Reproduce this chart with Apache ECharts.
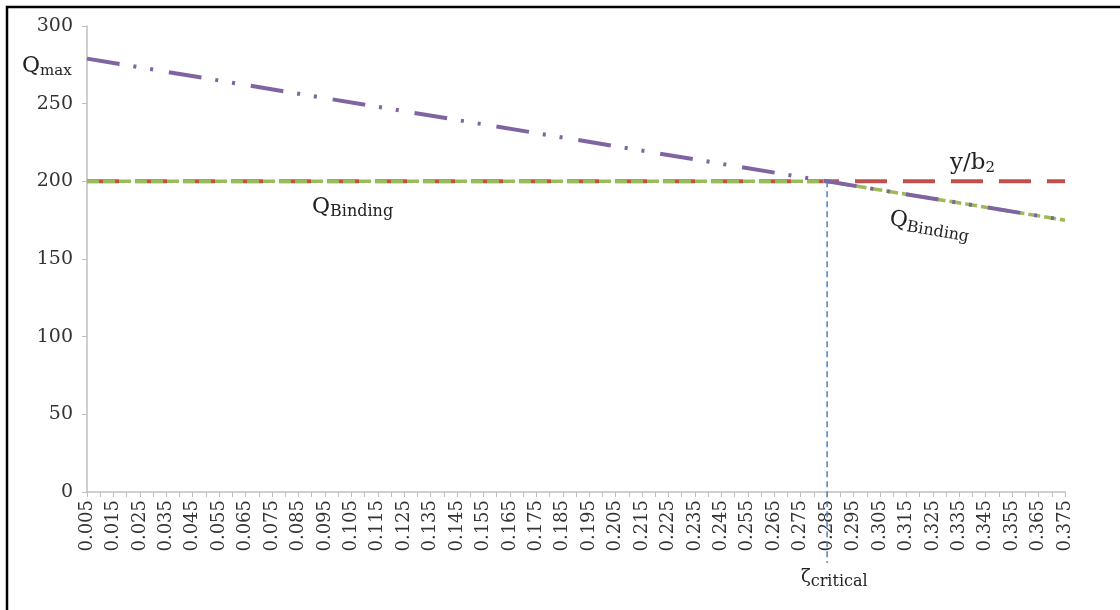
<!DOCTYPE html>
<html>
<head>
<meta charset="utf-8">
<script src="https://cdn.jsdelivr.net/npm/echarts@6/dist/echarts.min.js"></script>
<style>html,body{margin:0;padding:0;background:#fff;}#c{width:1120px;height:610px;}</style>
</head>
<body>
<div id="c"></div>
<script>
var categories = ['0.005','0.01','0.015','0.02','0.025','0.03','0.035','0.04','0.045','0.05',
'0.055','0.06','0.065','0.07','0.075','0.08','0.085','0.09','0.095','0.1',
'0.105','0.11','0.115','0.12','0.125','0.13','0.135','0.14','0.145','0.15',
'0.155','0.16','0.165','0.17','0.175','0.18','0.185','0.19','0.195','0.2',
'0.205','0.21','0.215','0.22','0.225','0.23','0.235','0.24','0.245','0.25',
'0.255','0.26','0.265','0.27','0.275','0.28','0.285','0.29','0.295','0.3',
'0.305','0.31','0.315','0.32','0.325','0.33','0.335','0.34','0.345','0.35',
'0.355','0.36','0.365','0.37','0.375'];
var yTicks = [0, 50, 100, 150, 200, 250, 300];
var qmaxX = ['0.005', '0.285', '0.375'];
var qmaxY = [279, 200, 175];
var ybX = ['0.005', '0.375'];
var ybY = [200, 200];
var qbX = ['0.005', '0.285', '0.375'];
var qbY = [200, 200, 175];
var critical = '0.285';
var criticalY = 200;

function pairs(xs, ys) { return xs.map(function (x, i) { return [categories.indexOf(x), ys[i]]; }); }

var font = 'DejaVu Serif';
var chart = echarts.init(document.getElementById('c'));
var option = {
  animation: false,
  backgroundColor: '#fff',
  grid: { left: 87, right: 55, top: 26, bottom: 118 },
  xAxis: {
    type: 'category', data: categories, boundaryGap: false,
    axisLine: { lineStyle: { color: '#BFBFBF', width: 1.5 } },
    axisTick: { show: true, interval: 0, length: 5, lineStyle: { color: '#BFBFBF' } },
    axisLabel: { interval: 1, rotate: 90, fontFamily: font, fontSize: 18, color: '#333', margin: 8 },
    splitLine: { show: false }
  },
  yAxis: {
    type: 'value', min: yTicks[0], max: yTicks[yTicks.length - 1], interval: 50,
    axisLine: { show: true, lineStyle: { color: '#BFBFBF', width: 1.5 } },
    axisTick: { show: true, length: 5, lineStyle: { color: '#BFBFBF' } },
    axisLabel: { fontFamily: font, fontSize: 19, color: '#333', margin: 14 },
    splitLine: { show: false }
  },
  series: [
    { name: 'y/b2', type: 'line', data: pairs(ybX, ybY), symbol: 'none',
      lineStyle: { color: '#C0504D', width: 4, type: [32, 16] }, z: 2 },
    { name: 'QBinding', type: 'line', data: pairs(qbX, qbY), symbol: 'none',
      lineStyle: { color: '#9BBB59', width: 3.5, type: [12, 4] }, z: 3 },
    { name: 'Qmax', type: 'line', data: pairs(qmaxX, qmaxY), symbol: 'none',
      lineStyle: { color: '#8064A2', width: 4, type: [33, 14, 3, 14, 3, 16] }, z: 4 }
  ]
};
chart.setOption(option);

var ci = categories.indexOf(critical);
var critPx = chart.convertToPixel({ xAxisIndex: 0, yAxisIndex: 0 }, [ci, criticalY]);
var g = [
  { type: 'line', z: 10, shape: { x1: critPx[0], y1: critPx[1], x2: critPx[0], y2: 563 },
    style: { stroke: '#4F81BD', lineWidth: 1.5, lineDash: [6, 4] } },
  { type: 'text', z: 10, left: 22, top: 55, style: {
      text: '{q|Q}{s|max}', rich: { q: { fontFamily: font, fontSize: 22, fill: '#222' }, s: { fontFamily: font, fontSize: 15, fill: '#222', padding: [10, 0, 0, 0] } } } },
  { type: 'text', z: 10, left: 312, top: 196, style: {
      text: '{q|Q}{s|Binding}', rich: { q: { fontFamily: font, fontSize: 22, fill: '#222' }, s: { fontFamily: font, fontSize: 16, fill: '#222', padding: [10, 0, 0, 0] } } } },
  { type: 'text', z: 10, left: 950, top: 152, style: {
      text: '{q|y/b}{s|2}', rich: { q: { fontFamily: font, fontSize: 23, fill: '#222' }, s: { fontFamily: font, fontSize: 15, fill: '#222', padding: [10, 0, 0, 0] } } } },
  { type: 'text', z: 10, x: 892, y: 206, rotation: -0.17, style: {
      text: '{q|Q}{s|Binding}', rich: { q: { fontFamily: font, fontSize: 22, fill: '#222' }, s: { fontFamily: font, fontSize: 16, fill: '#222', padding: [10, 0, 0, 0] } } } },
  { type: 'text', z: 10, left: 801, top: 568, style: {
      text: '{q|ζ}{s|critical}', rich: { q: { fontFamily: font, fontSize: 18, fill: '#222' }, s: { fontFamily: font, fontSize: 16, fill: '#222', padding: [10, 0, 0, 0] } } } },
  { type: 'rect', z: 20, shape: { x: 0, y: 589, width: 1120, height: 30 }, style: { fill: '#fff' } },
  { type: 'rect', z: 30, shape: { x: 7, y: 7, width: 1300, height: 800 }, style: { fill: 'none', stroke: '#000', lineWidth: 2.5 } }
];
chart.setOption({ graphic: g });
</script>
</body>
</html>
